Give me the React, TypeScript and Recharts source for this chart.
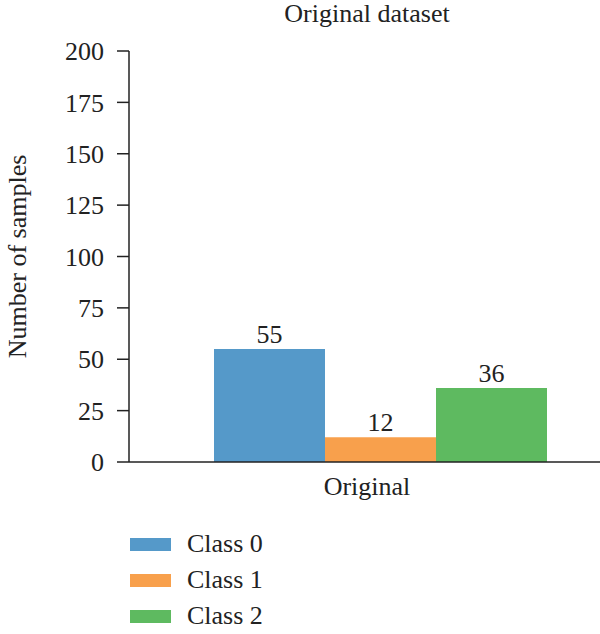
import React from 'react';
import { BarChart, Bar, XAxis, YAxis, LabelList } from 'recharts';

const categories = ['Original'];
const seriesNames = ['Class 0', 'Class 1', 'Class 2'];
const class0 = [55];
const class1 = [12];
const class2 = [36];
const yTicks = [0, 25, 50, 75, 100, 125, 150, 175, 200];
const colors = ['#5599C9', '#F8A04C', '#5EBA60'];
const title = 'Original dataset';
const yLabel = 'Number of samples';

const data = categories.map((c, i) => ({
  name: c,
  c0: class0[i],
  c1: class1[i],
  c2: class2[i],
}));
const keys = ['c0', 'c1', 'c2'];

const FONT = "'Liberation Serif', 'DejaVu Serif', serif";
const INK = '#222';
const FS = 26;

export default function App() {
  return (
    <div
      style={{
        position: 'absolute',
        left: 0,
        top: 0,
        width: 600,
        height: 634,
        overflow: 'hidden',
        background: '#fff',
        fontFamily: FONT,
      }}
    >
      <div
        style={{
          position: 'absolute',
          left: 167,
          width: 400,
          top: 0,
          textAlign: 'center',
          fontSize: FS,
          lineHeight: '28px',
          color: INK,
        }}
      >
        {title}
      </div>
      <BarChart
        width={631}
        height={634}
        data={data}
        margin={{ top: 51, right: 0, bottom: 142, left: 0 }}
        barGap={0}
        barCategoryGap={85}
        style={{ fontFamily: FONT }}
      >
        <XAxis
          dataKey="name"
          axisLine={{ stroke: INK, strokeWidth: 1.5 }}
          tickLine={false}
          tickSize={0}
          tickMargin={15}
          height={30}
          tick={{ fontSize: FS, fill: INK, dx: -13, fontFamily: FONT }}
        />
        <YAxis
          width={129}
          domain={[0, 200]}
          ticks={yTicks}
          interval={0}
          axisLine={{ stroke: INK, strokeWidth: 1.5 }}
          tickLine={{ stroke: INK, strokeWidth: 1.5 }}
          tickSize={12}
          tickMargin={13}
          tick={{ fontSize: FS, fill: INK, fontFamily: FONT }}
          label={{
            content: (props: any) => {
              const vb = props.viewBox || {};
              const cx = 17;
              const cy = (vb.y ?? 51) + (vb.height ?? 411) / 2;
              return (
                <text
                  x={cx}
                  y={cy}
                  transform={`rotate(-90, ${cx}, ${cy})`}
                  textAnchor="middle"
                  dominantBaseline="central"
                  fontSize={FS}
                  fill={INK}
                  fontFamily={FONT}
                >
                  {yLabel}
                </text>
              );
            },
          }}
        />
        {keys.map((k, i) => (
          <Bar key={k} dataKey={k} name={seriesNames[i]} fill={colors[i]} isAnimationActive={false}>
            <LabelList
              dataKey={k}
              position="top"
              offset={6}
              style={{ fontSize: FS, fill: INK, fontFamily: FONT }}
            />
          </Bar>
        ))}
      </BarChart>
      <div style={{ position: 'absolute', left: 130, top: 526 }}>
        {seriesNames.map((n, i) => (
          <div
            key={n}
            style={{ display: 'flex', alignItems: 'center', height: 36 }}
          >
            <div style={{ width: 41, height: 13, background: colors[i] }} />
            <span style={{ marginLeft: 16, fontSize: FS, color: INK, lineHeight: '30px' }}>{n}</span>
          </div>
        ))}
      </div>
    </div>
  );
}
